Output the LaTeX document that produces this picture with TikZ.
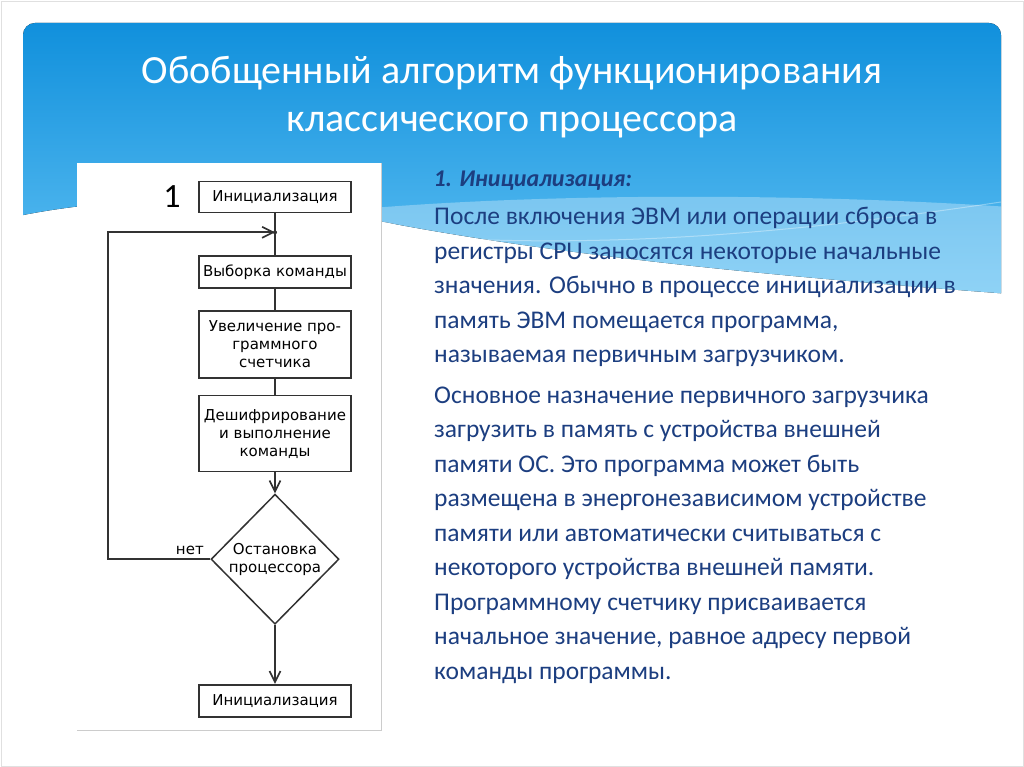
\documentclass[tikz,border=0pt]{standalone}
\usepackage{fontspec}
\setmainfont{Carlito}
\newfontfamily\chartfont{DejaVu Sans}
\usepackage{xcolor}
\usetikzlibrary{arrows.meta, positioning, shapes.geometric}
\definecolor{SlideBlue}{RGB}{10,140,218}
\definecolor{SlideSky}{RGB}{95,192,243}
\definecolor{TextBlue}{RGB}{28,62,128}
\definecolor{ChartGray}{RGB}{50,50,50}

\begin{document}
\begin{tikzpicture}[x=1pt, y=-1pt,
    box/.style={rectangle, draw=ChartGray, line width=1.7pt, fill=white, minimum width=152pt, align=center, inner sep=2pt, font=\chartfont\fontsize{15}{18}\selectfont},
    decision/.style={diamond, draw=ChartGray, line width=1.5pt, fill=white, minimum width=128pt, minimum height=130pt, inner sep=0pt, align=center, font=\chartfont\fontsize{15}{18}\selectfont},
    line/.style={draw=ChartGray, line width=1.7pt},
    arrow/.style={line, -{Straight Barb[length=11pt,width=11pt]}}
]
\useasboundingbox (0,0) rectangle (1024,767);
\fill[white] (0,0) rectangle (1024,767);
\draw[black!12] (1,1) rectangle (1023,766);

% header with wave
\begin{scope}
\clip[rounded corners=12pt] (23,23) rectangle (1001,420);
\fill[top color=SlideBlue, bottom color=SlideSky] (0,0) -- (1024,0) -- (1024,295)
    .. controls (850,282) and (600,262) .. (400,225)
    .. controls (300,205) and (150,185) .. (0,220) -- cycle;
\fill[white, opacity=0.3] (300,215) .. controls (500,192) and (800,192) .. (1024,208)
    -- (1024,295) .. controls (850,282) and (600,262) .. (400,225)
    .. controls (360,218) and (330,215) .. (300,215) -- cycle;
\draw[white, opacity=0.35, line width=1pt] (380,234) .. controls (600,252) and (800,232) .. (1001,202);
\end{scope}

\node[text=white, align=center, font=\fontsize{40}{48}\selectfont] (title) at (512,97)
    {Обобщенный алгоритм функционирования\\классического процессора};

% flowchart panel
\fill[white] (77,163) rectangle (381,730);
\draw[black!20] (77,730) -- (381,730) -- (381,163);

\node[box, minimum height=31pt] (init) at (275,197) {Инициализация};
\node[box, minimum height=32pt, below=42pt of init] (fetch) {Выборка команды};
\node[box, minimum height=67pt, below=21pt of fetch] (count) {Увеличение про-\\граммного\\счетчика};
\node[box, minimum height=76pt, below=16pt of count] (exec) {Дешифрирование\\и выполнение\\команды};
\node[decision, below=21pt of exec] (halt) {Остановка\\процессора};
\node[box, minimum height=32pt, below=59pt of halt] (stop) {Инициализация};
\node[font=\fontsize{34}{34}\selectfont, left=14pt of init] (num) {1};
\coordinate[below=19pt of init] (join);

\draw[line] (init) -- (fetch);
\draw[line] (fetch) -- (count);
\draw[line] (count) -- (exec);
\draw[arrow] (exec) -- (halt);
\draw[arrow] (halt) -- (stop);
\draw[arrow] (halt.west) -- node[pos=0.2, above, font=\chartfont\fontsize{15}{18}\selectfont]{нет} ++(-102,0) |- (join);
\fill[ChartGray] (join) circle (2pt);

% text
\node[anchor=west, text=TextBlue, font=\bfseries\itshape\fontsize{24}{28}\selectfont] (head) at (430,181) {1. Инициализация:};
\node[anchor=north west, inner sep=0pt, align=left, text=TextBlue, font=\fontsize{25.5}{34.5}\selectfont] (body) at (434,207)
    {После включения ЭВМ или операции сброса в\\
     регистры CPU заносятся некоторые начальные\\
     значения. Обычно в процессе инициализации в\\
     память ЭВМ помещается программа,\\
     называемая первичным загрузчиком.\\[6pt]
     Основное назначение первичного загрузчика\\
     загрузить в память с устройства внешней\\
     памяти ОС. Это программа может быть\\
     размещена в энергонезависимом устройстве\\
     памяти или автоматически считываться с\\
     некоторого устройства внешней памяти.\\
     Программному счетчику присваивается\\
     начальное значение, равное адресу первой\\
     команды программы.};
\end{tikzpicture}
\end{document}
